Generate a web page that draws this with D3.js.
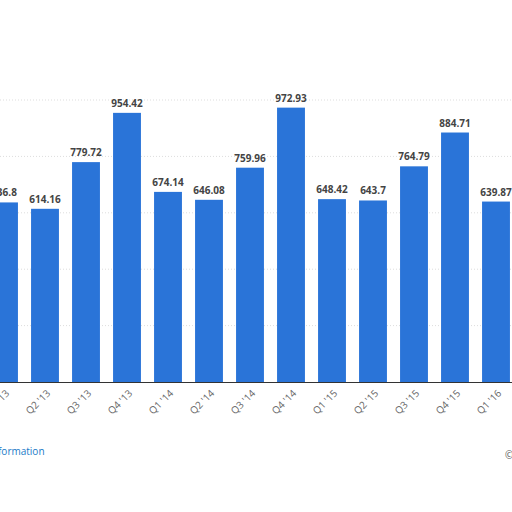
<!DOCTYPE html>
<html><head><meta charset="utf-8">
<script src="https://cdn.jsdelivr.net/npm/d3@7"></script>
<style>body{margin:0;background:#fff;overflow:hidden}text{font-family:"Open Sans",Arial,sans-serif}</style>
</head><body>
<script>
var quarters = ["Q1 '13","Q2 '13","Q3 '13","Q4 '13","Q1 '14","Q2 '14","Q3 '14","Q4 '14","Q1 '15","Q2 '15","Q3 '15","Q4 '15","Q1 '16"];
var values = [636.8,614.16,779.72,954.42,674.14,646.08,759.96,972.93,648.42,643.7,764.79,884.71,639.87];
var gridVals = [200,400,600,800,1000];

var svg = d3.select("body").append("svg").attr("width",512).attr("height",512);
var x = d3.scaleBand().domain(quarters).range([-16.5,516.5]).paddingInner(0.32).paddingOuter(0.16);
var y = d3.scaleLinear().domain([0,1000]).range([382,100]);

svg.selectAll("line.grid").data(gridVals).enter().append("line")
  .attr("x1",0).attr("x2",512).attr("y1",function(d){return y(d);}).attr("y2",function(d){return y(d);})
  .attr("stroke","#ddd").attr("stroke-dasharray","1,2");

svg.selectAll("rect.bar").data(values).enter().append("rect")
  .attr("x",function(d,i){return x(quarters[i]);})
  .attr("width",x.bandwidth())
  .attr("y",function(d){return y(d);})
  .attr("height",function(d){return y(0)-y(d);})
  .attr("fill","#2a74d8");

svg.selectAll("text.val").data(values).enter().append("text")
  .attr("x",function(d,i){return x(quarters[i])+x.bandwidth()/2;})
  .attr("y",function(d){return y(d)-6;})
  .attr("text-anchor","middle").attr("font-size",10).attr("font-weight","bold").attr("fill","#444")
  .text(function(d){return d;});

svg.append("line").attr("x1",0).attr("x2",512).attr("y1",382.5).attr("y2",382.5).attr("stroke","#333");

svg.selectAll("text.tick").data(quarters).enter().append("text")
  .attr("transform",function(d){return "translate("+(x(d)+x.bandwidth()/2+6)+",394) rotate(-45)";})
  .attr("text-anchor","end").attr("font-size",10).attr("fill","#666")
  .text(function(d){return d;});

svg.append("text").attr("x",-2).attr("y",455).attr("font-size",10).attr("fill","#1a7ac8").text("formation");
svg.append("text").attr("x",505).attr("y",459).attr("font-size",10).attr("fill","#555").text("©");
</script>
</body></html>
